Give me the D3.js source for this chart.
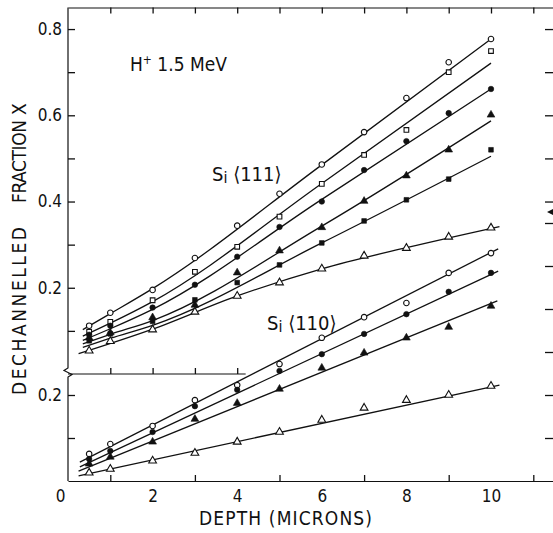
<!DOCTYPE html>
<html>
<head>
<meta charset="UTF-8">
<title>Dechannelled fraction vs depth</title>
<script src="https://d3js.org/d3.v7.min.js"></script>
<style>
  body { margin: 0; background: #fff; }
  svg { display: block; background: #fff; }
  text { font-family: 'DejaVu Sans Condensed', 'DejaVu Sans', sans-serif; font-stretch: condensed; fill: #111; }
</style>
</head>
<body>
<svg id="svg" width="553" height="533"></svg>
<script>

// depth of the measurements (microns)
var depth = [0.5, 1, 2, 3, 4, 5, 6, 7, 8, 9, 10];

// Si <111>
var s111_openCircle   = [0.112, 0.142, 0.195, 0.269, 0.344, 0.418, 0.486, 0.561, 0.640, 0.723, 0.777];
var s111_openSquare   = [0.098, 0.121, 0.171, 0.237, 0.295, 0.365, 0.441, 0.508, 0.566, 0.700, 0.749];
var s111_dot          = [0.091, 0.112, 0.154, 0.207, 0.272, 0.341, 0.400, 0.473, 0.540, 0.605, 0.661];
var s111_triangle     = [0.084, 0.096, 0.131, 0.160, 0.235, 0.286, 0.340, 0.401, 0.460, 0.520, 0.601];
var s111_square       = [0.077, 0.093, 0.122, 0.172, 0.212, 0.253, 0.304, 0.355, 0.404, 0.452, 0.520];
var s111_openTriangle = [0.054, 0.076, 0.103, 0.144, 0.181, 0.212, 0.244, 0.274, 0.292, 0.318, 0.339];

// Si <110>
var s110_openCircle   = [0.063, 0.086, 0.128, 0.188, 0.223, 0.272, 0.333, 0.381, 0.414, 0.484, 0.530];
var s110_dot          = [0.051, 0.070, 0.114, 0.174, 0.212, 0.256, 0.295, 0.342, 0.388, 0.440, 0.484];
var s110_triangle     = [0.040, 0.056, 0.091, 0.144, 0.181, 0.214, 0.263, 0.298, 0.333, 0.358, 0.407];
var s110_openTriangle = [0.019, 0.028, 0.047, 0.065, 0.091, 0.114, 0.142, 0.170, 0.188, 0.200, 0.221];

// fitted curves [depth, fraction]
var fit111_openCircle   = [[0.35, 0.103], [1, 0.140], [2, 0.198], [6, 0.485], [10, 0.777]];
var fit111_openSquare   = [[0.35, 0.088], [1, 0.118], [2, 0.168], [6, 0.442], [10, 0.721]];
var fit111_dot          = [[0.35, 0.078], [1, 0.105], [2, 0.150], [6, 0.405], [10, 0.661]];
var fit111_triangle     = [[0.35, 0.070], [1, 0.092], [2, 0.124], [6, 0.343], [10, 0.587]];
var fit111_square       = [[0.35, 0.062], [1, 0.083], [2, 0.113], [6, 0.304], [10, 0.505]];
var fit111_openTriangle = [[0.25, 0.047], [2, 0.104], [4, 0.181], [6, 0.244], [8, 0.293], [10.2, 0.342]];

var fit110_openCircle   = [[0.28, 0.044], [10.17, 0.540]];
var fit110_dot          = [[0.28, 0.033], [10.17, 0.488]];
var fit110_triangle     = [[0.25, 0.023], [10.15, 0.419]];
var fit110_openTriangle = [[0.25, 0.012], [10.2, 0.223]];

// ticks
var xLabels = [0, 2, 4, 6, 8, 10];
var xTicksTop = [1, 2, 3, 4, 5, 6, 7, 8, 9, 10, 11];
var xTicksBottom = [1, 3, 5, 7, 9, 11];
var xTicksBreak = [1, 2, 3, 4];
var yTicksTop = [0.1, 0.2, 0.3, 0.4, 0.5, 0.6, 0.7, 0.8];
var yLabelsTop = [0.2, 0.4, 0.6, 0.8];
var yTicksBot = [0.1, 0.2];
var yLabelsBot = [0.2];
var yRightTop = [0.4, 0.5, 0.6, 0.7, 0.8];
var yRightBot = [0.1, 0.2, 0.3, 0.4, 0.5, 0.6];

var svg = d3.select("svg");

var x = d3.scaleLinear().domain([0, 12]).range([68, 575.6]);
var yTop = d3.scaleLinear().domain([0, 0.85]).range([374, 7.5]);
var yBot = d3.scaleLinear().domain([0, 0.6]).range([481, 223]);

var fmt = function(d) { return d3.format(".1f")(d); };

// ---- frame / axes ----
// top
svg.append("g")
	.attr("transform", "translate(0," + yTop(0.85) + ")")
	.call(d3.axisBottom(x).tickValues(xTicksTop).tickSize(6).tickSizeOuter(0).tickFormat(""));

// bottom labels
var gx = svg.append("g")
	.attr("transform", "translate(0," + yBot(0) + ")")
	.call(d3.axisBottom(x).tickValues(xLabels).tickSize(0).tickPadding(9).tickFormat(d3.format("d")));
gx.selectAll("text").style("font-size", "17px").style("font-family", null);
gx.selectAll("text").filter(function(d) { return d == 0; }).attr("dx", -8);

// bottom ticks (odd ones, pointing up)
svg.append("g")
	.attr("transform", "translate(0," + yBot(0) + ")")
	.call(d3.axisTop(x).tickValues(xTicksBottom).tickSize(6).tickSizeOuter(0).tickFormat(""))
	.select(".domain").remove();

// bottom line of the upper (Si 111) panel
svg.append("line")
	.attr("x1", x(0)).attr("x2", x(4.2))
	.attr("y1", yTop(0)).attr("y2", yTop(0))
	.attr("stroke", "#111").attr("stroke-width", 1.2);
svg.append("g")
	.attr("transform", "translate(0," + yTop(0) + ")")
	.call(d3.axisTop(x).tickValues(xTicksBreak).tickSize(6).tickFormat(""))
	.select(".domain").remove();

// left axis, broken
svg.append("path")
	.attr("d", "M68," + yTop(0.85) + "L68,368L64,370.5L72,374.5L68,377L68," + yBot(0))
	.attr("fill", "none").attr("stroke", "#111").attr("stroke-width", 1.2);

svg.append("g").attr("transform", "translate(68,0)")
	.call(d3.axisRight(yTop).tickValues(yTicksTop).tickSize(7).tickFormat(""))
	.select(".domain").remove();
svg.append("g").attr("transform", "translate(68,0)")
	.call(d3.axisRight(yBot).tickValues(yTicksBot).tickSize(7).tickFormat(""))
	.select(".domain").remove();

var gl1 = svg.append("g").attr("transform", "translate(68,0)")
	.call(d3.axisLeft(yTop).tickValues(yLabelsTop).tickSize(0).tickPadding(6).tickFormat(fmt));
gl1.select(".domain").remove();
var gl2 = svg.append("g").attr("transform", "translate(68,0)")
	.call(d3.axisLeft(yBot).tickValues(yLabelsBot).tickSize(0).tickPadding(6).tickFormat(fmt));
gl2.select(".domain").remove();
svg.selectAll(".tick text").style("font-size", "17px").style("font-family", null);

// right side ticks (axis line is just outside the picture)
svg.append("g").attr("transform", "translate(553,0)")
	.call(d3.axisLeft(yTop).tickValues(yRightTop).tickSize(8).tickFormat(""))
	.select(".domain").remove();
svg.append("g").attr("transform", "translate(553,0)")
	.call(d3.axisLeft(yBot).tickValues(yRightBot).tickSize(8).tickFormat(""))
	.select(".domain").remove();
svg.append("path")
	.attr("d", "M553,209L547,212L553,215Z")
	.attr("fill", "#111");

svg.selectAll(".tick line").attr("stroke", "#111").attr("stroke-width", 1.3);
svg.selectAll(".domain").attr("stroke", "#111").attr("stroke-width", 1.2);

// ---- series ----
var series = [
	{ y: yTop, v: s111_openCircle,   fit: fit111_openCircle,   sym: d3.symbolCircle,   open: true },
	{ y: yTop, v: s111_openSquare,   fit: fit111_openSquare,   sym: d3.symbolSquare,   open: true },
	{ y: yTop, v: s111_dot,          fit: fit111_dot,          sym: d3.symbolCircle,   open: false },
	{ y: yTop, v: s111_triangle,     fit: fit111_triangle,     sym: d3.symbolTriangle, open: false },
	{ y: yTop, v: s111_square,       fit: fit111_square,       sym: d3.symbolSquare,   open: false },
	{ y: yTop, v: s111_openTriangle, fit: fit111_openTriangle, sym: d3.symbolTriangle, open: true },
	{ y: yBot, v: s110_openCircle,   fit: fit110_openCircle,   sym: d3.symbolCircle,   open: true },
	{ y: yBot, v: s110_dot,          fit: fit110_dot,          sym: d3.symbolCircle,   open: false },
	{ y: yBot, v: s110_triangle,     fit: fit110_triangle,     sym: d3.symbolTriangle, open: false },
	{ y: yBot, v: s110_openTriangle, fit: fit110_openTriangle, sym: d3.symbolTriangle, open: true }
];

var size = function(s) {
	if (s.sym == d3.symbolCircle) return 24;
	if (s.sym == d3.symbolSquare) return 22;
	return 26;
};

series.forEach(function(s) {
	var line = d3.line()
		.x(function(d) { return x(d[0]); })
		.y(function(d) { return s.y(d[1]); })
		.curve(d3.curveMonotoneX);
	svg.append("path")
		.datum(s.fit)
		.attr("d", line)
		.attr("fill", "none")
		.attr("stroke", "#111")
		.attr("stroke-width", 1.3);
});

series.forEach(function(s) {
	svg.append("g").selectAll("path")
		.data(s.v)
		.enter().append("path")
		.attr("transform", function(d, i) { return "translate(" + x(depth[i]) + "," + s.y(d) + ")"; })
		.attr("d", d3.symbol().type(s.sym).size(size(s)))
		.attr("fill", s.open ? "#fff" : "#111")
		.attr("stroke", "#111")
		.attr("stroke-width", s.open ? 1.1 : 0.6);
});

// ---- texts ----
var h = svg.append("text").attr("x", 130).attr("y", 71).style("font-size", "19px");
h.append("tspan").text("H");
h.append("tspan").attr("dy", -7).style("font-size", "12px").text("+");
h.append("tspan").attr("dy", 7).text(" 1.5 MeV");

var t1 = svg.append("text").attr("x", 212).attr("y", 181).style("font-size", "20px");
t1.append("tspan").text("S");
t1.append("tspan").attr("dy", 2).style("font-size", "16px").text("i");
t1.append("tspan").attr("dy", -2).text(" \u27E8111\u27E9");

var t2 = svg.append("text").attr("x", 267).attr("y", 330).style("font-size", "20px");
t2.append("tspan").text("S");
t2.append("tspan").attr("dy", 2).style("font-size", "16px").text("i");
t2.append("tspan").attr("dy", -2).text(" \u27E8110\u27E9");

svg.append("text")
	.attr("x", 199).attr("y", 525)
	.attr("textLength", 173).attr("lengthAdjust", "spacing")
	.style("font-size", "19px")
	.text("DEPTH (MICRONS)");

// y label, three words
var ylab = [["DECHANNELLED", 395, 168], ["FRACTION", 203, 83], ["X", 115, 13]];
ylab.forEach(function(w) {
	svg.append("text")
		.attr("transform", "translate(26," + w[1] + ") rotate(-90)")
		.attr("textLength", w[2]).attr("lengthAdjust", "spacing")
		.style("font-size", "19px")
		.text(w[0]);
});

</script>
</body>
</html>
